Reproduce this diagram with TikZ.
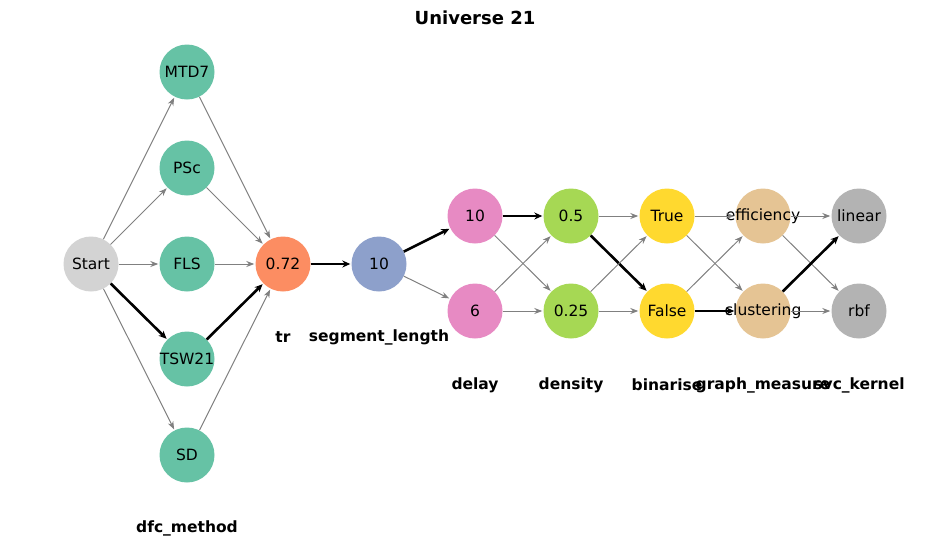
\documentclass[tikz,border=0pt]{standalone}
\usepackage{fontspec}
\setmainfont{DejaVu Sans}
\usetikzlibrary{arrows.meta}
\definecolor{cS}{HTML}{D3D3D3}
\definecolor{cG}{HTML}{66C2A5}
\definecolor{cO}{HTML}{FC8D62}
\definecolor{cB}{HTML}{8DA0CB}
\definecolor{cP}{HTML}{E78AC3}
\definecolor{cL}{HTML}{A6D854}
\definecolor{cY}{HTML}{FFD92F}
\definecolor{cT}{HTML}{E5C494}
\definecolor{cR}{HTML}{B3B3B3}
\begin{document}
\begin{tikzpicture}[x=1pt,y=-1pt,
  n/.style={circle,minimum size=55pt,inner sep=0pt,label={[font=\fontsize{15.5}{18}\selectfont]center:#1}},
  lab/.style={font=\fontsize{15.5}{18}\selectfont\bfseries},
  e/.style={draw=gray,line width=1pt,-{Stealth[length=8pt,width=6pt]},shorten >=1pt},
  t/.style={draw=black,line width=2.6pt,-{Stealth[length=8pt,width=7pt]},shorten >=1pt}]
\useasboundingbox (0,0) rectangle (950,547);
\node[font=\fontsize{18}{20}\selectfont\bfseries] (title) at (475,18) {Universe 21};
\node[n=Start,fill=cS] (s) at (91,264) {};
\node[n=MTD7,fill=cG] (m) at (187,72) {};
\node[n=PSc,fill=cG] (p) at (187,168) {};
\node[n=FLS,fill=cG] (f) at (187,264) {};
\node[n=TSW21,fill=cG] (w) at (187,359) {};
\node[n=SD,fill=cG] (d) at (187,455) {};
\node[n=0.72,fill=cO] (tr) at (283,264) {};
\node[n=10,fill=cB] (sl) at (379,264) {};
\node[n=10,fill=cP] (d1) at (475,216) {};
\node[n=6,fill=cP] (d2) at (475,311) {};
\node[n=0.5,fill=cL] (e1) at (571,216) {};
\node[n=0.25,fill=cL] (e2) at (571,311) {};
\node[n=True,fill=cY] (b1) at (667,216) {};
\node[n=False,fill=cY] (b2) at (667,311) {};
\node[n=efficiency,fill=cT] (g1) at (763,216) {};
\node[n=clustering,fill=cT] (g2) at (763,311) {};
\node[n=linear,fill=cR] (k1) at (859,216) {};
\node[n=rbf,fill=cR] (k2) at (859,311) {};
\node[lab] (l1) at (187,528) {dfc\_method};
\node[lab] (l2) at (283,337) {tr};
\node[lab] (l3) at (379,337) {segment\_length};
\node[lab] (l4) at (475,385) {delay};
\node[lab] (l5) at (571,385) {density};
\node[lab] (l6) at (667,385) {binarise};
\node[lab] (l7) at (763,385) {graph\_measure};
\node[lab] (l8) at (859,385) {svc\_kernel};
\begin{scope}[on background layer/.style={}]
\foreach \a in {m,p,f,d} {\draw[e] (s) -- (\a); \draw[e] (\a) -- (tr);}
\draw[t] (s) -- (w); \draw[t] (w) -- (tr); \draw[t] (tr) -- (sl);
\draw[t] (sl) -- (d1); \draw[e] (sl) -- (d2);
\draw[t] (d1) -- (e1); \draw[e] (d1) -- (e2); \draw[e] (d2) -- (e1); \draw[e] (d2) -- (e2);
\draw[e] (e1) -- (b1); \draw[t] (e1) -- (b2); \draw[e] (e2) -- (b1); \draw[e] (e2) -- (b2);
\draw[e] (b1) -- (g1); \draw[e] (b1) -- (g2); \draw[e] (b2) -- (g1); \draw[t] (b2) -- (g2);
\draw[e] (g1) -- (k1); \draw[e] (g1) -- (k2); \draw[t] (g2) -- (k1); \draw[e] (g2) -- (k2);
\end{scope}
\end{tikzpicture}
\end{document}
